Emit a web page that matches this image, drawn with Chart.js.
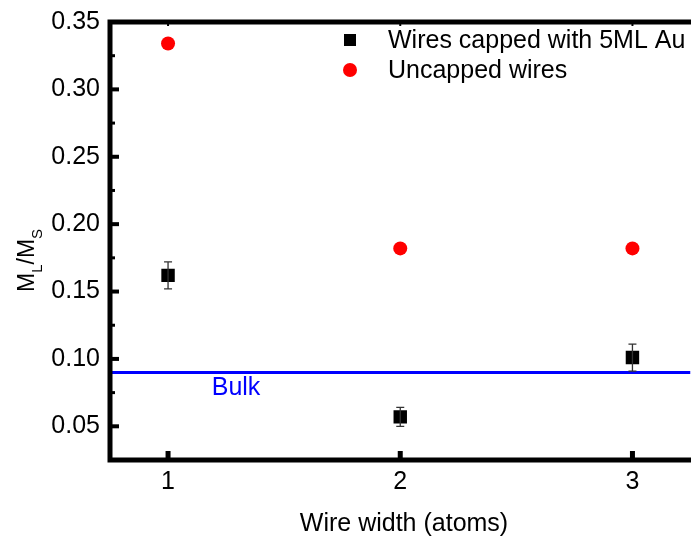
<!DOCTYPE html>
<html>
<head>
<meta charset="utf-8">
<script src="https://cdn.jsdelivr.net/npm/chart.js@4"></script>
<style>
  html, body { margin: 0; padding: 0; background: #fff; overflow: hidden; }
  #wrap { width: 700px; height: 537px; }
</style>
</head>
<body>
<div id="wrap"><canvas id="chart"></canvas></div>
<script>
// data
var widths = [1, 2, 3];
var capped = [0.162, 0.057, 0.101];
var cappedErr = [0.010, 0.007, 0.010];
var uncapped = [0.334, 0.182, 0.182];
var bulk = 0.09;
var xTicks = [1, 2, 3];
var yTicks = [0.05, 0.10, 0.15, 0.20, 0.25, 0.30, 0.35];
var yMinor = [0.075, 0.125, 0.175, 0.225, 0.275, 0.325];

var FONT = 'Liberation Sans, Arial, sans-serif';

var frame = {
    id: 'frame',
    afterDatasetsDraw: function (chart) {
        var ctx = chart.ctx;
        var a = chart.chartArea;
        var xs = chart.scales.x, ys = chart.scales.y;
        ctx.save();

        // error bars for the capped wires
        ctx.strokeStyle = '#333';
        ctx.lineWidth = 1.3;
        widths.forEach(function (w, i) {
            var px = xs.getPixelForValue(w);
            var top = ys.getPixelForValue(capped[i] + cappedErr[i]);
            var bot = ys.getPixelForValue(capped[i] - cappedErr[i]);
            ctx.beginPath();
            ctx.moveTo(px, top); ctx.lineTo(px, bot);
            ctx.moveTo(px - 4, top); ctx.lineTo(px + 4, top);
            ctx.moveTo(px - 4, bot); ctx.lineTo(px + 4, bot);
            ctx.stroke();
        });

        // axes frame
        ctx.strokeStyle = '#000';
        ctx.lineWidth = 5;
        ctx.beginPath();
        ctx.moveTo(a.right + 5, a.top);
        ctx.lineTo(a.left, a.top);
        ctx.lineTo(a.left, a.bottom);
        ctx.lineTo(a.right + 5, a.bottom);
        ctx.stroke();

        // ticks pointing inward
        ctx.lineWidth = 4;
        yTicks.forEach(function (v) {
            var py = ys.getPixelForValue(v);
            ctx.beginPath(); ctx.moveTo(a.left, py); ctx.lineTo(a.left + 9, py); ctx.stroke();
        });
        ctx.lineWidth = 3;
        yMinor.forEach(function (v) {
            var py = ys.getPixelForValue(v);
            ctx.beginPath(); ctx.moveTo(a.left, py); ctx.lineTo(a.left + 5, py); ctx.stroke();
        });
        ctx.lineWidth = 5;
        xTicks.forEach(function (v) {
            var px = xs.getPixelForValue(v);
            ctx.beginPath(); ctx.moveTo(px, a.bottom); ctx.lineTo(px, a.bottom - 9); ctx.stroke();
            ctx.lineWidth = 2;
            ctx.beginPath(); ctx.moveTo(px, a.top); ctx.lineTo(px, a.top + 4); ctx.stroke();
            ctx.lineWidth = 5;
        });

        // Bulk label
        ctx.fillStyle = '#0000ff';
        ctx.font = '25px ' + FONT;
        ctx.textAlign = 'left';
        ctx.textBaseline = 'alphabetic';
        ctx.fillText('Bulk', xs.getPixelForValue(1.188), ys.getPixelForValue(bulk) + 23);

        // legend
        ctx.fillStyle = '#000';
        ctx.fillRect(344, 34, 12, 12);
        ctx.fillStyle = '#ff0000';
        ctx.beginPath(); ctx.arc(350, 70, 7, 0, Math.PI * 2); ctx.fill();
        ctx.fillStyle = '#000';
        ctx.textBaseline = 'middle';
        ctx.fillText('Wires capped with 5ML Au', 388, 41);
        ctx.fillText('Uncapped wires', 388, 71);

        // x title
        ctx.textAlign = 'center';
        ctx.textBaseline = 'alphabetic';
        ctx.fillText('Wire width (atoms)', 404, 531);

        // y title M_L/M_S
        ctx.translate(34, 292);
        ctx.rotate(-Math.PI / 2);
        ctx.textAlign = 'left';
        var x = 0;
        ctx.font = '23px ' + FONT;
        ctx.fillText('M', x, 0); x += ctx.measureText('M').width;
        ctx.font = '15px ' + FONT;
        ctx.fillText('L', x, 8); x += ctx.measureText('L').width;
        ctx.font = '23px ' + FONT;
        ctx.fillText('/M', x, 0); x += ctx.measureText('/M').width;
        ctx.font = '15px ' + FONT;
        ctx.fillText('S', x, 8);
        ctx.restore();
    }
};

new Chart(document.getElementById('chart'), {
    type: 'scatter',
    data: {
        datasets: [{
            label: 'Wires capped with 5ML Au',
            data: widths.map(function (w, i) { return { x: w, y: capped[i] }; }),
            pointStyle: 'rect',
            pointRadius: 9.5,
            pointHoverRadius: 9.5,
            backgroundColor: '#000',
            borderWidth: 0,
            order: 1
        }, {
            label: 'Uncapped wires',
            data: widths.map(function (w, i) { return { x: w, y: uncapped[i] }; }),
            pointStyle: 'circle',
            pointRadius: 7,
            pointHoverRadius: 7,
            backgroundColor: '#ff0000',
            borderWidth: 0,
            order: 0
        }, {
            label: 'Bulk',
            type: 'line',
            data: [{ x: 0.75, y: bulk }, { x: 3.25, y: bulk }],
            borderColor: '#0000ff',
            borderWidth: 3,
            pointRadius: 0,
            showLine: true,
            order: 2
        }]
    },
    options: {
        responsive: true,
        maintainAspectRatio: false,
        animation: false,
        events: [],
        layout: { padding: { top: 22, right: 0, left: 0, bottom: 0 } },
        plugins: { legend: { display: false }, tooltip: { enabled: false } },
        scales: {
            x: {
                type: 'linear',
                min: 0.75,
                max: 3.25,
                afterBuildTicks: function (s) { s.ticks = xTicks.map(function (v) { return { value: v }; }); },
                afterFit: function (s) { s.height = 77; s.paddingLeft = 0; s.paddingRight = 0; },
                grid: { display: false, drawTicks: false },
                border: { display: false },
                ticks: { color: '#000', font: { family: FONT, size: 25 }, padding: 7 }
            },
            y: {
                type: 'linear',
                min: 0.025,
                max: 0.35,
                afterBuildTicks: function (s) { s.ticks = yTicks.map(function (v) { return { value: v }; }); },
                afterFit: function (s) { s.width = 110; s.paddingTop = 0; s.paddingBottom = 0; },
                grid: { display: false, drawTicks: false },
                border: { display: false },
                ticks: {
                    color: '#000',
                    font: { family: FONT, size: 25 },
                    padding: 10,
                    callback: function (v) { return v.toFixed(2); }
                }
            }
        }
    },
    plugins: [frame]
});
</script>
</body>
</html>
